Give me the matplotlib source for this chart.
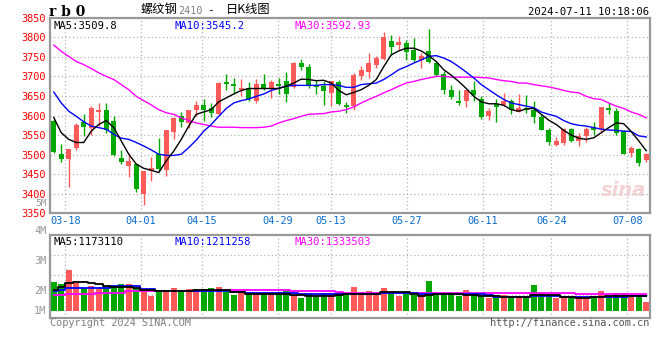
import numpy as np
import matplotlib
matplotlib.use("Agg")
from matplotlib import pyplot as plt

# trading days shown, 03-14 .. 07-11
dates = ["03-14", "03-15", "03-18", "03-19", "03-20", "03-21", "03-22", "03-25", "03-26", "03-27",
         "03-28", "03-29", "04-01", "04-02", "04-03", "04-08", "04-09", "04-10", "04-11", "04-12",
         "04-15", "04-16", "04-17", "04-18", "04-19", "04-22", "04-23", "04-24", "04-25", "04-26",
         "04-29", "04-30", "05-06", "05-07", "05-08", "05-09", "05-10", "05-13", "05-14", "05-15",
         "05-16", "05-17", "05-20", "05-21", "05-22", "05-23", "05-24", "05-27", "05-28", "05-29",
         "05-30", "05-31", "06-03", "06-04", "06-05", "06-06", "06-07", "06-11", "06-12", "06-13",
         "06-14", "06-17", "06-18", "06-19", "06-20", "06-21", "06-24", "06-25", "06-26", "06-27",
         "06-28", "07-01", "07-02", "07-03", "07-04", "07-05", "07-08", "07-09", "07-10", "07-11"]
tick_dates = ["03-18", "04-01", "04-15", "04-29", "05-13", "05-27", "06-11", "06-24", "07-08"]

opens = [3587, 3501, 3488, 3516, 3583, 3567, 3609, 3613, 3587, 3492,
         3471, 3476, 3399, 3459, 3501, 3461, 3559, 3598, 3581, 3613,
         3628, 3620, 3604, 3686, 3681, 3664, 3670, 3637, 3681, 3669,
         3681, 3689, 3672, 3734, 3724, 3679, 3676, 3658, 3686, 3628,
         3624, 3700, 3711, 3728, 3745, 3791, 3779, 3785, 3768, 3742,
         3765, 3734, 3706, 3666, 3638, 3637, 3666, 3641, 3598, 3630,
         3626, 3638, 3609, 3620, 3615, 3596, 3562, 3525, 3529, 3565,
         3535, 3548, 3571, 3565, 3620, 3611, 3560, 3505, 3514, 3487]
highs = [3591, 3526, 3515, 3580, 3605, 3624, 3631, 3631, 3598, 3513,
         3505, 3476, 3459, 3495, 3542, 3562, 3596, 3609, 3615, 3638,
         3643, 3632, 3685, 3706, 3696, 3694, 3686, 3694, 3706, 3692,
         3696, 3711, 3738, 3745, 3731, 3692, 3687, 3689, 3692, 3635,
         3708, 3727, 3759, 3752, 3813, 3806, 3802, 3793, 3799, 3759,
         3821, 3738, 3714, 3677, 3664, 3666, 3689, 3649, 3620, 3641,
         3658, 3643, 3655, 3652, 3638, 3604, 3567, 3546, 3569, 3569,
         3554, 3570, 3584, 3621, 3631, 3620, 3562, 3522, 3516, 3505]
lows = [3503, 3480, 3416, 3511, 3548, 3550, 3573, 3555, 3496, 3477,
        3442, 3404, 3370, 3432, 3459, 3446, 3539, 3570, 3567, 3598,
        3586, 3596, 3601, 3666, 3654, 3649, 3638, 3633, 3664, 3645,
        3654, 3634, 3670, 3717, 3670, 3655, 3626, 3624, 3626, 3607,
        3614, 3690, 3696, 3721, 3743, 3755, 3768, 3742, 3738, 3721,
        3734, 3700, 3654, 3641, 3628, 3621, 3638, 3590, 3588, 3583,
        3624, 3603, 3609, 3607, 3581, 3562, 3525, 3522, 3525, 3533,
        3522, 3533, 3550, 3556, 3604, 3550, 3501, 3494, 3471, 3480]
closes = [3507, 3488, 3514, 3575, 3570, 3618, 3614, 3562, 3498, 3480,
          3484, 3412, 3459, 3465, 3463, 3562, 3594, 3583, 3615, 3628,
          3615, 3607, 3683, 3681, 3675, 3670, 3641, 3681, 3669, 3686,
          3675, 3655, 3734, 3723, 3676, 3672, 3662, 3687, 3630, 3621,
          3704, 3717, 3734, 3748, 3800, 3774, 3787, 3762, 3742, 3753,
          3736, 3704, 3664, 3647, 3632, 3666, 3653, 3596, 3611, 3621,
          3638, 3613, 3620, 3614, 3596, 3563, 3533, 3535, 3565, 3535,
          3548, 3565, 3562, 3621, 3615, 3554, 3501, 3516, 3478, 3501]

ma5 = [3595, 3556, 3539, 3531, 3531, 3560, 3577, 3587, 3569, 3535,
       3501, 3476, 3465, 3460, 3454, 3484, 3509, 3539, 3573, 3603,
       3609, 3615, 3635, 3645, 3655, 3664, 3669, 3669, 3669, 3669,
       3669, 3675, 3683, 3693, 3692, 3689, 3690, 3683, 3664, 3653,
       3659, 3666, 3677, 3692, 3725, 3755, 3765, 3772, 3772, 3765,
       3753, 3738, 3717, 3703, 3687, 3669, 3649, 3635, 3630, 3630,
       3626, 3615, 3611, 3617, 3618, 3603, 3588, 3577, 3562, 3550,
       3542, 3539, 3543, 3556, 3569, 3581, 3579, 3559, 3535, 3510]
ma10 = [3660, 3632, 3611, 3598, 3584, 3573, 3569, 3565, 3552, 3542,
        3539, 3531, 3522, 3512, 3501, 3498, 3498, 3501, 3518, 3537,
        3560, 3577, 3598, 3618, 3632, 3638, 3642, 3649, 3655, 3664,
        3670, 3675, 3677, 3677, 3677, 3677, 3679, 3679, 3677, 3672,
        3672, 3679, 3681, 3683, 3692, 3704, 3717, 3725, 3734, 3742,
        3751, 3753, 3747, 3738, 3725, 3711, 3696, 3679, 3666, 3653,
        3641, 3632, 3628, 3624, 3620, 3609, 3603, 3598, 3587, 3579,
        3575, 3573, 3569, 3565, 3563, 3562, 3560, 3559, 3548, 3545]
ma30 = [3780, 3764, 3751, 3738, 3730, 3720, 3709, 3700, 3692, 3679,
        3666, 3649, 3638, 3627, 3615, 3607, 3603, 3594, 3587, 3581,
        3577, 3573, 3570, 3570, 3570, 3569, 3569, 3569, 3570, 3573,
        3581, 3587, 3592, 3598, 3603, 3604, 3605, 3609, 3611, 3615,
        3622, 3632, 3641, 3649, 3658, 3666, 3675, 3683, 3687, 3692,
        3696, 3700, 3700, 3698, 3698, 3698, 3698, 3697, 3696, 3692,
        3689, 3687, 3683, 3683, 3679, 3676, 3673, 3669, 3664, 3660,
        3658, 3649, 3643, 3641, 3632, 3624, 3618, 3609, 3603, 3594]

# volume, millions of lots
volume = [2.32, 2.16, 3.26, 2.24, 1.84, 1.97, 1.73, 1.92, 1.92, 2.13,
          2.13, 1.84, 1.66, 1.18, 1.66, 1.58, 1.82, 1.52, 1.73, 1.58,
          1.73, 1.82, 1.90, 1.58, 1.26, 1.44, 1.44, 1.34, 1.44, 1.34,
          1.52, 1.60, 1.26, 1.04, 1.44, 1.18, 1.44, 1.44, 1.52, 1.44,
          1.92, 1.52, 1.60, 1.39, 1.84, 1.52, 1.21, 1.44, 1.26, 1.26,
          2.37, 1.44, 1.39, 1.34, 1.21, 1.66, 1.44, 1.21, 1.04, 1.26,
          1.26, 1.06, 1.12, 1.18, 2.05, 1.44, 1.26, 1.04, 1.18, 1.04,
          1.18, 1.04, 1.04, 1.60, 1.18, 1.44, 1.44, 1.07, 1.18, 0.72]
vol_ma5 = [1.66, 1.92, 2.19, 2.27, 2.27, 2.24, 2.14, 1.98, 1.92, 1.92,
           1.92, 1.84, 1.66, 1.66, 1.58, 1.58, 1.58, 1.58, 1.58, 1.66,
           1.66, 1.66, 1.66, 1.66, 1.52, 1.47, 1.34, 1.34, 1.34, 1.34,
           1.34, 1.34, 1.26, 1.23, 1.18, 1.18, 1.18, 1.21, 1.26, 1.31,
           1.34, 1.34, 1.34, 1.34, 1.52, 1.52, 1.52, 1.52, 1.34, 1.18,
           1.26, 1.34, 1.34, 1.34, 1.34, 1.26, 1.23, 1.18, 1.18, 1.18,
           1.12, 1.12, 1.12, 1.12, 1.26, 1.26, 1.26, 1.26, 1.12, 1.07,
           1.04, 1.04, 1.07, 1.12, 1.18, 1.18, 1.18, 1.17, 1.17, 1.17]
vol_ma10 = [1.58, 1.66, 1.84, 1.84, 1.84, 1.84, 1.84, 1.84, 2.00, 2.00,
            2.00, 2.00, 1.71, 1.71, 1.58, 1.58, 1.58, 1.58, 1.58, 1.58,
            1.58, 1.60, 1.60, 1.60, 1.52, 1.52, 1.44, 1.44, 1.44, 1.44,
            1.44, 1.44, 1.39, 1.34, 1.34, 1.34, 1.34, 1.34, 1.34, 1.34,
            1.34, 1.34, 1.34, 1.34, 1.44, 1.44, 1.44, 1.44, 1.44, 1.34,
            1.34, 1.34, 1.34, 1.34, 1.34, 1.34, 1.34, 1.34, 1.23, 1.12,
            1.12, 1.12, 1.12, 1.12, 1.15, 1.15, 1.18, 1.18, 1.12, 1.12,
            1.12, 1.12, 1.12, 1.12, 1.12, 1.12, 1.12, 1.21, 1.21, 1.21]
vol_ma30 = [1.26, 1.26, 1.34, 1.34, 1.34, 1.34, 1.44, 1.44, 1.44, 1.44,
            1.60, 1.60, 1.60, 1.60, 1.60, 1.60, 1.60, 1.60, 1.60, 1.60,
            1.60, 1.66, 1.66, 1.66, 1.66, 1.66, 1.66, 1.66, 1.66, 1.66,
            1.66, 1.66, 1.58, 1.58, 1.58, 1.58, 1.58, 1.58, 1.52, 1.44,
            1.44, 1.44, 1.44, 1.44, 1.44, 1.39, 1.39, 1.39, 1.39, 1.39,
            1.39, 1.39, 1.39, 1.39, 1.39, 1.39, 1.39, 1.39, 1.39, 1.39,
            1.39, 1.39, 1.39, 1.39, 1.39, 1.39, 1.39, 1.39, 1.39, 1.39,
            1.33, 1.33, 1.33, 1.33, 1.33, 1.33, 1.33, 1.33, 1.33, 1.33]

price_ticks = [3350, 3400, 3450, 3500, 3550, 3600, 3650, 3700, 3750, 3800, 3850]
vol_labels = ["5M", "4M", "3M", "2M", "1M"]

RED = "#ff5a5a"
GREEN = "#00a800"
GRID = "#b4b4b4"
FRAME = "#999999"
MONO = "DejaVu Sans Mono"
CJK = ["Noto Sans CJK SC", "DejaVu Sans"]

o = np.array(opens, float)
h = np.array(highs, float)
l = np.array(lows, float)
c = np.array(closes, float)
x = np.arange(len(o))
up = c >= o
cols = np.where(up, RED, GREEN)

fig = plt.figure(figsize=(6.6, 3.6), dpi=100)
W, H = 660.0, 360.0
ax = fig.add_axes([50 / W, 1 - 213.3 / H, 600 / W, 195.6 / H])
axv = fig.add_axes([50 / W, 1 - 317.5 / H, 600 / W, 83 / H])

# tick positions: sina spaces the date grid by n-1 while candles use n slots
n = len(dates)
tick_pos = [dates.index(d) * n / (n - 1) - 0.5 for d in tick_dates]

for a in (ax, axv):
    a.set_xlim(-0.5, n - 0.5)
    a.set_xticks(tick_pos)
    a.tick_params(length=0)
    a.grid(True, color=GRID, linestyle=(0, (1, 2)), linewidth=0.9)
    a.set_axisbelow(True)
    for s in a.spines.values():
        s.set_color(FRAME)
        s.set_linewidth(1.6)

# price panel
ax.set_ylim(3350, 3850)
ax.set_yticks(price_ticks)
ax.set_yticklabels([str(p) for p in price_ticks], color="#ff0000", fontsize=7.4, family=MONO)
ax.set_xticklabels(tick_dates, color="#0a6ccc", fontsize=7.4, family=MONO)
ax.tick_params(axis="y", pad=3)
ax.tick_params(axis="x", pad=2)

ax.vlines(x, l, h, colors=cols, linewidth=1.0, zorder=2)
body = np.maximum(np.abs(c - o), 1.2)
ax.bar(x, body, bottom=np.minimum(o, c), width=0.68, color=cols, linewidth=0, zorder=3)

ax.plot(x, ma30, color="#ff00ff", linewidth=1.0, zorder=4)
ax.plot(x, ma10, color="#0000ff", linewidth=1.0, zorder=4)
ax.plot(x, ma5, color="#000000", linewidth=1.0, zorder=4)

ax.text(0.006, 0.985, "MA5:3509.8", transform=ax.transAxes, va="top", ha="left",
        fontsize=7.6, family=MONO, color="black")
ax.text(0.208, 0.985, "MA10:3545.2", transform=ax.transAxes, va="top", ha="left",
        fontsize=7.6, family=MONO, color="#0000ff")
ax.text(0.408, 0.985, "MA30:3592.93", transform=ax.transAxes, va="top", ha="left",
        fontsize=7.6, family=MONO, color="#ff00ff")
ax.text(0.955, 0.07, "sina", transform=ax.transAxes, ha="center", va="bottom",
        fontsize=14, fontstyle="italic", fontweight="bold", color="#f0c8c8", alpha=0.8)

# volume panel
axv.set_ylim(-0.544, 6.096)
axv.set_yticks([1.26, 2.86, 4.46])
axv.set_yticklabels([])
axv.set_xticklabels([])
axv.bar(x, volume, width=0.76, color=cols, linewidth=0, zorder=2)
axv.plot(x, vol_ma30, color="#ff00ff", linewidth=1.3, drawstyle="steps-mid", zorder=3)
axv.plot(x, vol_ma10, color="#0000ff", linewidth=1.3, drawstyle="steps-mid", zorder=3)
axv.plot(x, vol_ma5, color="#000000", linewidth=1.3, drawstyle="steps-mid", zorder=3)

axv.text(0.006, 0.975, "MA5:1173110", transform=axv.transAxes, va="top", ha="left",
         fontsize=7.6, family=MONO, color="black")
axv.text(0.208, 0.975, "MA10:1211258", transform=axv.transAxes, va="top", ha="left",
         fontsize=7.6, family=MONO, color="#0000ff")
axv.text(0.408, 0.975, "MA30:1333503", transform=axv.transAxes, va="top", ha="left",
         fontsize=7.6, family=MONO, color="#ff00ff")

# sina puts the volume scale labels at its own spots
for lab, yp in zip(vol_labels, [203.5, 231, 261, 291, 311]):
    fig.text(46.5 / W, 1 - yp / H, lab, ha="right", va="center",
             fontsize=6.8 if lab == "5M" else 7.4, family=MONO, color="#999999")

# header
fig.text(49 / W, 1 - 12 / H, "r b 0", ha="left", va="center", fontsize=10,
         family="DejaVu Serif", fontweight="bold", color="black")
fig.text(141 / W, 1 - 10 / H, "螺纹钢", ha="left", va="center", fontsize=8.8,
         family=CJK, color="black")
fig.text(178 / W, 1 - 11 / H, "2410", ha="left", va="center", fontsize=7.3,
         family=MONO, color="#808080")
fig.text(207 / W, 1 - 10 / H, "-", ha="left", va="center", fontsize=8,
         family=MONO, color="black")
fig.text(226 / W, 1 - 10 / H, "日K线图", ha="left", va="center", fontsize=8.8,
         family=CJK, color="black")
fig.text(649 / W, 1 - 12 / H, "2024-07-11 10:18:06", ha="right", va="center",
         fontsize=7.6, family=MONO, color="black")

# footer
fig.text(50 / W, 1 - 323.5 / H, "Copyright 2024 SINA.COM", ha="left", va="center",
         fontsize=7.4, family=MONO, color="#808080")
fig.text(649 / W, 1 - 323.5 / H, "http://finance.sina.com.cn", ha="right", va="center",
         fontsize=7.4, family=MONO, color="#555555")

fig.savefig("out.png", dpi=100, facecolor="white")
